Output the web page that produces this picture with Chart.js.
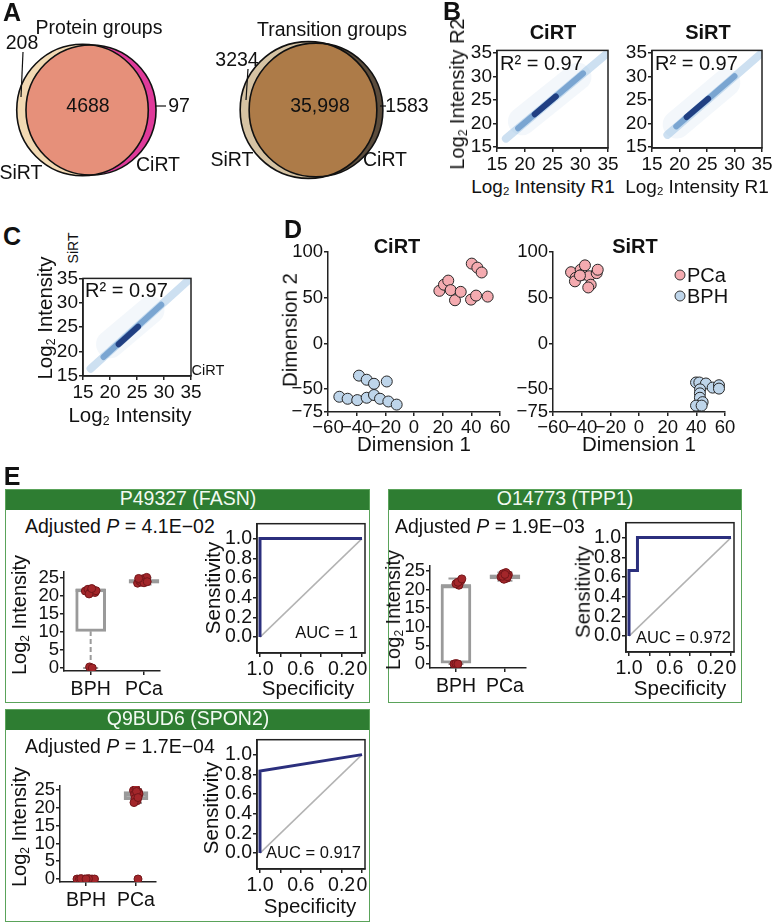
<!DOCTYPE html>
<html>
<head>
<meta charset="utf-8">
<title>CiRT vs SiRT</title>
<script src="https://cdn.jsdelivr.net/npm/chart.js@4.4.1/dist/chart.umd.min.js"></script>
<style>
  body { margin: 0; background: #fff; }
  #fig { position: relative; width: 784px; height: 923px; overflow: hidden;
         font-family: "Liberation Sans", Arial, Helvetica, sans-serif; color: #111; }
  #fig canvas { position: absolute; }
  .t { position: absolute; white-space: nowrap; font-size: 19.5px; line-height: 1; transform: translate(-50%, -50%); }
  .t sub { font-size: 0.6em; vertical-align: -0.25em; line-height: 0; }
  .frame { position: absolute; box-sizing: border-box; border: 1.5px solid #5aa35a; }
  .frame .head { height: 20px; background: #2e7d32; }
  .dot { position: absolute; width: 11px; height: 11px; border-radius: 50%; border: 1px solid #333;
         box-sizing: border-box; transform: translate(-50%, -50%); }
</style>
</head>
<body>
<div id="fig"></div>
<script>
// ---------- data ----------
// A: Venn counts -> [SiRT only, both, CiRT only]
const vennSets = ['SiRT', 'CiRT'];
const proteinCounts = [208, 4688, 97];
const transitionCounts = [3234, 35998, 1583];

// B/C: replicate correlation, density ridge read along the diagonal (log2 intensity)
const r2Values = [0.97, 0.97, 0.97];
const logTicks = [15, 20, 25, 30, 35];
const cirtCloud = [[19.5, 20.5], [29.5, 30]];
const cirtOuter = [[16.6, 16.8], [34.8, 34.9]];
const cirtMid = [[18.8, 19], [30.5, 30.7]];
const cirtCore = [[21.8, 22], [25.6, 25.8]];
const sirtCloud = [[19.5, 19.8], [28.5, 28.7]];
const sirtOuter = [[17.8, 17.6], [34.8, 34.9]];
const sirtMid = [[19.4, 19.4], [30, 30.1]];
const sirtCore = [[21.3, 21.4], [25.2, 25.3]];
const crossCloud = [[20, 21.5], [27.5, 28.5]];
const crossOuter = [[16.4, 16.5], [34.8, 34.9]];
const crossMid = [[18.8, 18.9], [29.5, 29.6]];
const crossCore = [[21.6, 21.5], [25.2, 25.1]];

// D: MDS coordinates [dimension 1, dimension 2]
const mdsXTicks = [-60, -40, -20, 0, 20, 40, 60];
const mdsYTicks = [-75, -50, 0, 50, 100];
const cirtPCa = [[17.7, 57.6], [20.9, 64.3], [23.9, 68.8], [25.6, 58.4], [28.6, 47.3], [32.6, 56.5],
                 [40.3, 87.4], [44.2, 83], [47.2, 77.7], [39.8, 48], [43.3, 52.4], [51.4, 51.3]];
const cirtBPH = [[-52.1, -58.3], [-46.3, -60.5], [-39.6, -62], [-33, -59.4], [-27.9, -56.4], [-23.7, -60.5],
                 [-17.9, -63.5], [-12.1, -66.9], [-38.4, -35.2], [-33, -39.7], [-27.9, -44.1], [-19, -41.6]];
const sirtPCa = [[-47.4, 78], [-44.2, 71.8], [-44.7, 68], [-40.7, 80.7], [-39.6, 75.1], [-37.7, 85.5],
                 [-34.7, 73.6], [-33.7, 64.3], [-35.4, 61.3], [-29.5, 77], [-28.8, 80.7], [-41.2, 74.4]];
const sirtBPH = [[39.8, -42.7], [42.1, -42.7], [46.7, -43.8], [51.4, -48.3], [55.8, -45.7], [55.8, -49.4],
                 [42.6, -50.2], [42.5, -54.6], [42.5, -59.4], [44.4, -64.2], [39.8, -68], [43.7, -68]];

// E: proteins, box statistics per group [BPH, PCa], jittered samples [group pos, log2 intensity]
const boxGroups = ['BPH', 'PCa'];
const boxTicks = [0, 5, 10, 15, 20, 25];
const proteins = ['P49327 (FASN)', 'O14773 (TPP1)', 'Q9BUD6 (SPON2)'];
const adjustedP = ['4.1E\u221202', '1.9E\u221203', '1.7E\u221204'];
const aucValues = ['1', '0.972', '0.917'];

const fasnLo = [0, 23.2], fasnQ1 = [10.2, 23.6], fasnMed = [21.6, 24.1], fasnQ3 = [21.9, 24.6], fasnHi = [21.9, 25.1];
const tpp1Lo = [0, 22.4], tpp1Q1 = [0, 22.9], tpp1Med = [21.0, 23.5], tpp1Q3 = [21.1, 24.0], tpp1Hi = [23.0, 24.6];
const spon2Lo = [0, 21.4], spon2Q1 = [0, 22.3], spon2Med = [0, 23.6], spon2Q3 = [0, 24.6], spon2Hi = [0, 25.3];

const fasnPoints = [[0.90, 21.4], [0.95, 21.9], [1.00, 21.2], [1.04, 21.7], [1.08, 21.0], [0.97, 20.6], [1.10, 21.5],
                    [1.02, 22.1], [0.98, 0.3], [1.03, 0.0],
                    [1.88, 23.6], [1.92, 24.2], [1.95, 23.9], [1.98, 24.8], [2.02, 24.4], [2.05, 25.2], [1.94, 24.6],
                    [2.00, 23.7], [2.06, 24.0], [1.90, 24.9]];
const tpp1Points = [[0.96, 0.0], [1.00, 0.1], [1.04, 0.0], [1.06, 21.2], [1.00, 21.6], [1.10, 22.4], [1.04, 22.0], [1.12, 22.9],
                    [1.92, 23.4], [1.96, 24.3], [2.00, 23.8], [2.04, 23.1], [2.07, 24.0], [1.98, 22.8], [2.02, 24.6],
                    [1.95, 23.6], [2.05, 23.5], [2.00, 24.1]];
const spon2Points = [[0.82, 0], [0.87, 0], [0.92, 0], [0.97, 0], [1.02, 0], [1.07, 0], [1.12, 0], [1.17, 0], [0.90, 0.1],
                     [1.05, 0.1], [1.00, 0],
                     [1.95, 24.9], [2.00, 25.3], [2.05, 24.4], [1.97, 23.8], [2.03, 23.2], [1.98, 22.6], [2.02, 22.0],
                     [1.96, 21.5], [2.06, 23.9], [2.01, 24.6], [2.04, 22.9], [2.04, 0.0]];

// ROC curves [specificity, sensitivity]
const rocXTicks = [1, 0.8, 0.6, 0.4, 0.2, 0];
const rocXLabels = ['1.0', '', '0.6', '', '0.2', '0'];
const rocYTicks = [0, 0.2, 0.4, 0.6, 0.8, 1];
const rocYLabels = ['0.0', '0.2', '0.4', '0.6', '0.8', '1.0'];
const fasnRoc = [[1, 0], [1, 1], [0, 1]];
const tpp1Roc = [[1, 0], [1, 0.667], [0.917, 0.667], [0.917, 1], [0, 1]];
const spon2Roc = [[1, 0], [1, 0.833], [0, 1]];
const chanceLine = [[1, 0], [0, 1]];

// ---------- helpers ----------
const fig = document.getElementById('fig');
const log2 = 'Log<sub>2</sub>';
const pts = arr => arr.map(p => ({ x: p[0], y: p[1] }));

function txt(html, x, y, o = {}) {
    const d = document.createElement('div');
    d.className = 't';
    d.innerHTML = html;
    d.style.left = x + 'px';
    d.style.top = y + 'px';
    if (o.size) d.style.fontSize = o.size + 'px';
    if (o.bold) d.style.fontWeight = 'bold';
    if (o.color) d.style.color = o.color;
    if (o.rot) d.style.transform = 'translate(-50%, -50%) rotate(-90deg)';
    if (o.align === 'left') d.style.transform = 'translate(0, -50%)';
    if (o.align === 'right') d.style.transform = 'translate(-100%, -50%)';
    fig.appendChild(d);
}

function canvasAt(left, top, w, h) {
    const c = document.createElement('canvas');
    c.width = w;
    c.height = h;
    c.style.left = left + 'px';
    c.style.top = top + 'px';
    c.style.width = w + 'px';
    c.style.height = h + 'px';
    fig.appendChild(c);
    return c;
}

function linAxis(min, max, ticks, size, o = {}) {
    return {
        type: 'linear', min, max, reverse: !!o.reverse, offset: false,
        afterBuildTicks: s => { s.ticks = ticks.map(v => ({ value: v })); },
        afterFit: s => { if (s.isHorizontal()) s.height = size; else s.width = size; },
        ticks: {
            autoSkip: false, maxRotation: 0, minRotation: 0, padding: o.pad ?? 1,
            color: '#111', font: { size: o.font || 18 },
            callback: (v, i) => o.labels ? o.labels[i] : String(v).replace('-', '\u2212')
        },
        grid: { display: true, offset: false, drawOnChartArea: false, drawTicks: true, tickLength: 4, color: '#222', lineWidth: 1.5 },
        border: { display: true, color: '#222', width: 1.5 }
    };
}

function baseOptions(padRight, scales) {
    return {
        responsive: false, animation: false, devicePixelRatio: 1, events: [],
        layout: { padding: { top: 12, right: padRight, bottom: 0, left: 0 }, autoPadding: false },
        plugins: { legend: { display: false }, tooltip: { enabled: false } },
        scales
    };
}

// box around the plotting region
const framePlugin = {
    id: 'frame',
    afterDraw(chart) {
        const a = chart.chartArea, ctx = chart.ctx;
        ctx.save();
        ctx.strokeStyle = '#222';
        ctx.lineWidth = 1.5;
        ctx.strokeRect(a.left, a.top, a.right - a.left, a.bottom - a.top);
        ctx.restore();
    }
};

Chart.defaults.font.family = '"Liberation Sans", Arial, Helvetica, sans-serif';
Chart.defaults.font.size = 18;
Chart.defaults.color = '#111';

// ---------- frames of panel E (under everything) ----------
const eFrames = [[5, 489, 365, 214], [388, 489, 354, 214], [5, 709, 365, 213]];
eFrames.forEach(f => {
    const d = document.createElement('div');
    d.className = 'frame';
    d.style.left = f[0] + 'px';
    d.style.top = f[1] + 'px';
    d.style.width = f[2] + 'px';
    d.style.height = f[3] + 'px';
    d.innerHTML = '<div class="head"></div>';
    fig.appendChild(d);
});

// ---------- A: Venn diagrams ----------
const vennLayout = [
    { cx: [82.5, 91], cy: 110, k: 0.94, fills: ['#f2d9b3', '#df3a9a'], both: '#e6907a', counts: proteinCounts },
    { cx: [308.5, 316], cy: 110, k: 0.345, fills: ['#d6c3a3', '#5b4c3c'], both: '#ad7b48', counts: transitionCounts }
];
const vennDatasets = [];
vennLayout.forEach(v => {
    const totals = [v.counts[0] + v.counts[1], v.counts[1] + v.counts[2]];
    vennSets.forEach((name, i) => {
        vennDatasets.push({
            label: name,
            data: [{ x: v.cx[i], y: v.cy, r: v.k * Math.sqrt(totals[i]) }],
            backgroundColor: v.fills[i], borderWidth: 0
        });
    });
});

const vennPlugin = {
    id: 'venn',
    afterDatasetsDraw(chart) {
        const ctx = chart.ctx;
        vennLayout.forEach((v, n) => {
            const A = chart.getDatasetMeta(n * 2).data[0];
            const B = chart.getDatasetMeta(n * 2 + 1).data[0];
            ctx.save();
            ctx.beginPath();
            ctx.arc(A.x, A.y, A.options.radius, 0, Math.PI * 2);
            ctx.clip();
            ctx.beginPath();
            ctx.arc(B.x, B.y, B.options.radius, 0, Math.PI * 2);
            ctx.fillStyle = v.both;
            ctx.fill();
            ctx.restore();
            ctx.save();
            ctx.strokeStyle = '#111';
            ctx.lineWidth = 1.6;
            [A, B].forEach(E => {
                ctx.beginPath();
                ctx.arc(E.x, E.y, E.options.radius, 0, Math.PI * 2);
                ctx.stroke();
            });
            ctx.restore();
        });
        // leader lines for the small counts
        ctx.save();
        ctx.strokeStyle = '#111';
        ctx.lineWidth = 1.2;
        [[23, 52, 21, 97], [155, 106, 166, 106], [248, 69, 246, 100], [380, 106, 386, 106]].forEach(l => {
            ctx.beginPath();
            ctx.moveTo(l[0], l[1]);
            ctx.lineTo(l[2], l[3]);
            ctx.stroke();
        });
        ctx.restore();
    }
};

new Chart(canvasAt(0, 0, 440, 185), {
    type: 'bubble',
    data: { datasets: vennDatasets },
    options: {
        responsive: false, animation: false, devicePixelRatio: 1, events: [],
        layout: { padding: 0, autoPadding: false },
        plugins: { legend: { display: false }, tooltip: { enabled: false } },
        scales: {
            x: { type: 'linear', min: 0, max: 440, display: false },
            y: { type: 'linear', min: 0, max: 185, reverse: true, display: false }
        }
    },
    plugins: [vennPlugin]
});

// ---------- B / C: density scatter ----------
const ridgeStyle = [
    { color: 'rgba(120,165,210,0.09)', width: 28 },
    { color: 'rgba(130,178,220,0.40)', width: 8 },
    { color: 'rgba(60,120,185,0.55)', width: 6 },
    { color: 'rgba(20,50,120,0.88)', width: 6 }
];

function densityPlot(area, ridges) {
    const cv = canvasAt(area.l - 40, area.t - 12, 40 + area.w + 14, 12 + area.h + 26);
    new Chart(cv, {
        type: 'scatter',
        data: {
            datasets: ridges.map((seg, i) => ({
                data: pts(seg), showLine: true, pointRadius: 0,
                borderColor: ridgeStyle[i].color, borderWidth: ridgeStyle[i].width,
                borderCapStyle: 'round', clip: 0, order: ridges.length - i
            }))
        },
        options: baseOptions(14, {
            x: linAxis(15, 35, logTicks, 26, { font: 19 }),
            y: linAxis(area.yMin, area.yMax, logTicks, 40, { font: 19 })
        }),
        plugins: [framePlugin]
    });
}

densityPlot({ l: 497, t: 50, w: 111, h: 98, yMin: 14.8, yMax: 35.6 }, [cirtCloud, cirtOuter, cirtMid, cirtCore]);
densityPlot({ l: 652, t: 50, w: 110, h: 98, yMin: 14.8, yMax: 35.6 }, [sirtCloud, sirtOuter, sirtMid, sirtCore]);
densityPlot({ l: 83, t: 278, w: 108, h: 98, yMin: 15, yMax: 35 }, [crossCloud, crossOuter, crossMid, crossCore]);

// ---------- D: MDS ----------
function mdsPlot(area, pca, bph) {
    const cv = canvasAt(area.l - 44, area.t - 12, 44 + area.w + 14, 12 + area.h + 28);
    new Chart(cv, {
        type: 'scatter',
        data: {
            datasets: [
                { data: pts(pca), pointRadius: 5.5, backgroundColor: '#f4abb0', borderColor: '#262626', borderWidth: 1 },
                { data: pts(bph), pointRadius: 5.5, backgroundColor: '#bed5ea', borderColor: '#262626', borderWidth: 1 }
            ]
        },
        options: baseOptions(14, {
            x: linAxis(-60, 60, mdsXTicks, 28, { font: 18.5 }),
            y: linAxis(-75, 100, mdsYTicks, 44, { font: 18.5 })
        })
    });
}

mdsPlot({ l: 328, t: 252, w: 172, h: 160 }, cirtPCa, cirtBPH);
mdsPlot({ l: 553, t: 252, w: 172, h: 160 }, sirtPCa, sirtBPH);

// ---------- E: box plots + ROC ----------
function boxPlot(area, st, points) {
    const cv = canvasAt(area.l - 40, area.t - 12, 40 + area.w + 12, 12 + area.h + 30);
    const gray = '#9a9a9a';
    const ds = [
        { type: 'scatter', data: pts(points), pointRadius: 4, backgroundColor: '#a3262a',
          borderColor: '#74161a', borderWidth: 1, order: 0 },
        { type: 'scatter', data: st.med.map((v, i) => ({ x: i + 1, y: v })), pointStyle: 'line',
          pointRadius: area.bw / 2, borderColor: gray, borderWidth: 3.5, order: 1 },
        { type: 'bar', data: st.q1.map((v, i) => ({ x: i + 1, y: [v, st.q3[i]] })), backgroundColor: '#fff',
          borderColor: gray, borderWidth: 3, borderSkipped: false, grouped: false,
          barThickness: area.bw, maxBarThickness: area.bw, order: 2 },
        { type: 'scatter', data: st.lo.concat(st.hi).map((v, i) => ({ x: (i % 2) + 1, y: v })), pointStyle: 'line',
          pointRadius: area.bw / 4, borderColor: gray, borderWidth: 2, order: 3 }
    ];
    st.lo.forEach((v, i) => {
        ds.push({ type: 'line', data: [{ x: i + 1, y: v }, { x: i + 1, y: st.q1[i] }], borderColor: gray,
                  borderWidth: 2, borderDash: [5, 3], pointRadius: 0, order: 4 });
        ds.push({ type: 'line', data: [{ x: i + 1, y: st.q3[i] }, { x: i + 1, y: st.hi[i] }], borderColor: gray,
                  borderWidth: 2, borderDash: [5, 3], pointRadius: 0, order: 4 });
    });
    new Chart(cv, {
        type: 'scatter',
        data: { datasets: ds },
        options: baseOptions(12, {
            x: linAxis(area.xMin, area.xMax, [1, 2], 30, { labels: boxGroups, pad: 3, font: 19.5 }),
            y: linAxis(area.yMin, area.yMax, boxTicks, 40, { font: 18.5 })
        })
    });
}

function rocPlot(area, curve) {
    const cv = canvasAt(area.l - 42, area.t - 12, 42 + 108 + 12, 12 + 130 + 30);
    new Chart(cv, {
        type: 'scatter',
        data: {
            datasets: [
                { data: pts(curve), showLine: true, pointRadius: 0, borderColor: '#2b2f7d', borderWidth: 3, order: 0 },
                { data: pts(chanceLine), showLine: true, pointRadius: 0, borderColor: '#b3b3b3', borderWidth: 1.5, order: 1 }
            ]
        },
        options: baseOptions(12, {
            x: linAxis(-0.0294, 1.0294, rocXTicks, 30, { reverse: true, labels: rocXLabels, font: 19.5 }),
            y: linAxis(-0.1616, 1.1515, rocYTicks, 42, { labels: rocYLabels, font: 19.5 })
        }),
        plugins: [framePlugin]
    });
}

boxPlot({ l: 64, t: 572, w: 96, h: 99, xMin: 0.5, xMax: 2.3, yMin: -0.83, yMax: 26.67, bw: 30 },
        { lo: fasnLo, q1: fasnQ1, med: fasnMed, q3: fasnQ3, hi: fasnHi }, fasnPoints);
boxPlot({ l: 430, t: 566, w: 96, h: 102, xMin: 0.47, xMax: 2.43, yMin: -1.08, yMax: 26.34, bw: 30 },
        { lo: tpp1Lo, q1: tpp1Q1, med: tpp1Med, q3: tpp1Q3, hi: tpp1Hi }, tpp1Points);
boxPlot({ l: 60, t: 786, w: 96, h: 96, xMin: 0.48, xMax: 2.4, yMin: -0.84, yMax: 26.12, bw: 24 },
        { lo: spon2Lo, q1: spon2Q1, med: spon2Med, q3: spon2Q3, hi: spon2Hi }, spon2Points);

rocPlot({ l: 257, t: 523 }, fasnRoc);
rocPlot({ l: 626, t: 522 }, tpp1Roc);
rocPlot({ l: 257, t: 739 }, spon2Roc);

// ---------- text ----------
const fmt = n => n.toLocaleString('en-US');
txt('A', 12, 12, { bold: true, size: 25 });
txt('Protein groups', 99, 28);
txt(String(proteinCounts[0]), 22, 43);
txt(String(proteinCounts[1]), 88, 106);
txt(String(proteinCounts[2]), 179, 106);
txt(vennSets[0], 21, 173);
txt(vennSets[1], 158, 165);
txt('Transition groups', 332, 30);
txt(String(transitionCounts[0]), 237, 60);
txt(fmt(transitionCounts[1]), 320, 106);
txt(String(transitionCounts[2]), 407, 106);
txt(vennSets[0], 232, 160);
txt(vennSets[1], 385, 160);

txt('B', 452, 11, { bold: true, size: 25 });
txt('CiRT', 553, 32, { bold: true, size: 20 });
txt('SiRT', 708, 32, { bold: true, size: 20 });
txt('R\u00b2 = ' + r2Values[0].toFixed(2), 500, 63, { align: 'left', size: 20 });
txt('R\u00b2 = ' + r2Values[1].toFixed(2), 655, 63, { align: 'left', size: 20 });
txt(log2 + ' Intensity R2', 457, 94, { rot: true, size: 20 });
txt(log2 + ' Intensity R1', 543, 186, { size: 19 });
txt(log2 + ' Intensity R1', 697, 186, { size: 19 });

txt('C', 12, 236, { bold: true, size: 25 });
txt('SiRT', 73, 248, { rot: true, size: 14 });
txt(log2 + ' Intensity', 45, 318, { rot: true, size: 20.5 });
txt('R\u00b2 = ' + r2Values[2].toFixed(2), 85, 290, { align: 'left', size: 20 });
txt('CiRT', 208, 370, { size: 14.5 });
txt(log2 + ' Intensity', 130, 415, { size: 20.5 });

txt('D', 293, 229, { bold: true, size: 25 });
txt('CiRT', 397, 246, { bold: true, size: 20 });
txt('SiRT', 635, 246, { bold: true, size: 20 });
txt('Dimension 2', 290, 330, { rot: true, size: 20.5 });
txt('Dimension 1', 414, 444, { size: 20.5 });
txt('Dimension 1', 639, 444, { size: 20.5 });
[['PCa', '#f4abb0', 275], ['BPH', '#bed5ea', 296]].forEach(([name, col, y]) => {
    const d = document.createElement('div');
    d.className = 'dot';
    d.style.left = '680px';
    d.style.top = y + 'px';
    d.style.background = col;
    fig.appendChild(d);
    txt(name, 687, y, { align: 'left', size: 20 });
});

txt('E', 12, 476, { bold: true, size: 25 });
const eText = [
    { head: [188, 499], p: [25, 527], ylab: [19, 615], sens: [213, 588], spec: [308, 688], auc: [358, 632] },
    { head: [565, 499], p: [395, 527], ylab: [393, 610], sens: [583, 592], spec: [680, 688], auc: [731, 637] },
    { head: [188, 719], p: [25, 747], ylab: [19, 827], sens: [211, 808], spec: [310, 906], auc: [361, 852] }
];
eText.forEach((e, i) => {
    txt(proteins[i], e.head[0], e.head[1], { color: '#f2faf2' });
    txt('Adjusted <i>P</i> = ' + adjustedP[i], e.p[0], e.p[1], { align: 'left' });
    txt(log2 + ' Intensity', e.ylab[0], e.ylab[1], { rot: true, size: 20 });
    txt('Sensitivity', e.sens[0], e.sens[1], { rot: true, size: 20.5 });
    txt('Specificity', e.spec[0], e.spec[1], { size: 20.5 });
    txt('AUC = ' + aucValues[i], e.auc[0], e.auc[1], { align: 'right', size: 16.5 });
});
</script>
</body>
</html>
